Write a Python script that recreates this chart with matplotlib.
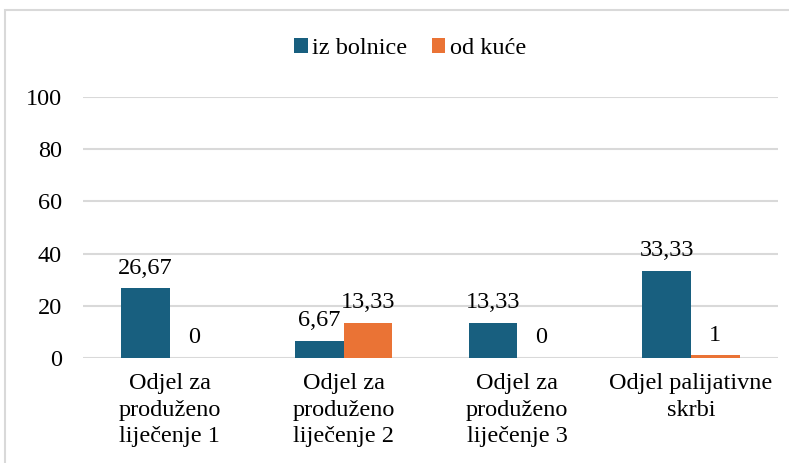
import numpy as np
import matplotlib.pyplot as plt
from matplotlib.patches import Rectangle

# Podaci
kategorije = ["Odjel za\nproduženo\nliječenje 1", "Odjel za\nproduženo\nliječenje 2",
              "Odjel za\nproduženo\nliječenje 3", "Odjel palijativne\nskrbi"]
iz_bolnice = [26.67, 6.67, 13.33, 33.33]
od_kuce = [0, 13.33, 0, 1]
oznake_bolnica = ["26,67", "6,67", "13,33", "33,33"]
oznake_kuca = ["0", "13,33", "0", "1"]

plt.rcParams['font.family'] = ['Liberation Serif', 'DejaVu Serif']
fs = 17.5

plavo = '#185F7F'
narancasto = '#EA7335'

fig = plt.figure(figsize=(7.89, 4.63), dpi=100)
ax = fig.add_axes([0.105, 0.2268, 0.881, 0.5637])

x = np.arange(len(kategorije))
w = 0.28
b1 = ax.bar(x - w / 2, iz_bolnice, w, color=plavo, label="iz bolnice", zorder=3)
b2 = ax.bar(x + w / 2, od_kuce, w, color=narancasto, label="od kuće", zorder=3)

for rect, t in zip(b1, oznake_bolnica):
    ax.annotate(t, (rect.get_x() + rect.get_width() / 2, rect.get_height()),
                xytext=(0, 7), textcoords="offset points", ha='center', va='bottom', fontsize=fs)
for rect, t in zip(b2, oznake_kuca):
    ax.annotate(t, (rect.get_x() + rect.get_width() / 2, rect.get_height()),
                xytext=(0, 7), textcoords="offset points", ha='center', va='bottom', fontsize=fs)

ax.set_xlim(-0.5, len(kategorije) - 0.5)
ax.set_ylim(0, 100)
ax.set_yticks(range(0, 101, 20))
ax.set_xticks(x)
ax.set_xticklabels(kategorije, fontsize=fs, linespacing=1.35)
ax.tick_params(axis='y', labelsize=fs, length=0, pad=15)
ax.tick_params(axis='x', length=0, pad=11)
ax.grid(axis='y', color='#d9d9d9', linewidth=1.5, zorder=0)
for s in ax.spines.values():
    s.set_visible(False)

fig.legend(loc='center', bbox_to_anchor=(0.52, 0.895), ncol=2, frameon=False, fontsize=fs,
           handlelength=0.55, handleheight=0.55, handletextpad=0.2, columnspacing=1.0)

fig.patches.append(Rectangle((5 / 789, -0.1), 1.1, (463 - 10) / 463 + 0.1, transform=fig.transFigure,
                             fill=False, edgecolor='#d9d9d9', linewidth=1.5))

fig.savefig("out.png", dpi=100)
